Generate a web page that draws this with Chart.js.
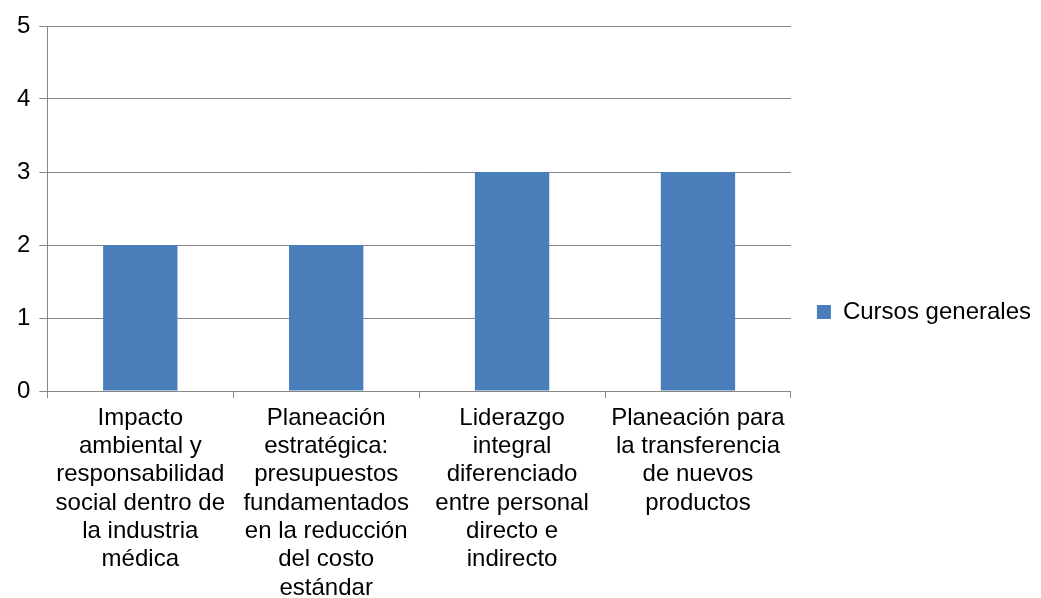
<!DOCTYPE html>
<html lang="es">
<head>
    <meta charset="UTF-8">
    <title>Cursos generales</title>
    <script src="https://cdn.jsdelivr.net/npm/chart.js"></script>
    <style>
        html, body { margin: 0; padding: 0; background: #fff; }
    </style>
</head>
<body>
    <canvas id="chart" width="1041" height="598"></canvas>

    <script>
        // category labels, already wrapped the way the original shows them
        const categories = [
            ['Impacto', 'ambiental y', 'responsabilidad', 'social dentro de', 'la industria', 'médica'],
            ['Planeación', 'estratégica:', 'presupuestos', 'fundamentados', 'en la reducción', 'del costo', 'estándar'],
            ['Liderazgo', 'integral', 'diferenciado', 'entre personal', 'directo e', 'indirecto'],
            ['Planeación para', 'la transferencia', 'de nuevos', 'productos']
        ];
        const seriesName = 'Cursos generales';
        const seriesValues = [2, 2, 3, 3];
        const yTicks = [0, 1, 2, 3, 4, 5];

        const gridGray = '#868686';
        const font = { family: '"Liberation Sans", Arial, sans-serif', size: 24, lineHeight: 1.18 };

        const ctx = document.getElementById('chart').getContext('2d');
        const chart = new Chart(ctx, {
            type: 'bar',
            data: {
                labels: categories,
                datasets: [{
                    label: seriesName,
                    data: seriesValues,
                    backgroundColor: '#4a7ebb',
                    borderWidth: 0,
                    categoryPercentage: 1.0,
                    barPercentage: 0.4
                }]
            },
            options: {
                responsive: false,
                animation: false,
                layout: {
                    padding: { top: 26, left: 8, right: 0, bottom: 0 }
                },
                plugins: {
                    legend: {
                        position: 'right',
                        labels: {
                            font: font,
                            color: '#000',
                            boxWidth: 14,
                            boxHeight: 14,
                            padding: 26
                        }
                    },
                    tooltip: { enabled: false }
                },
                scales: {
                    x: {
                        grid: {
                            offset: true,
                            drawOnChartArea: false,
                            drawTicks: true,
                            tickLength: 7,
                            color: gridGray
                        },
                        border: { color: gridGray },
                        ticks: {
                            font: font,
                            color: '#000',
                            padding: 6,
                            maxRotation: 0,
                            autoSkip: false
                        },
                        // the longest label runs to the very bottom edge, as in the original
                        afterFit: (axis) => {
                            axis.height = 207;
                        }
                    },
                    y: {
                        min: yTicks[0],
                        max: yTicks[yTicks.length - 1],
                        grid: {
                            color: gridGray,
                            tickLength: 8
                        },
                        border: { color: gridGray },
                        ticks: {
                            stepSize: 1,
                            font: font,
                            color: '#000',
                            padding: 9
                        },
                        afterBuildTicks: (axis) => {
                            axis.ticks = yTicks.map(v => ({ value: v }));
                        }
                    }
                }
            }
        });
    </script>
</body>
</html>
